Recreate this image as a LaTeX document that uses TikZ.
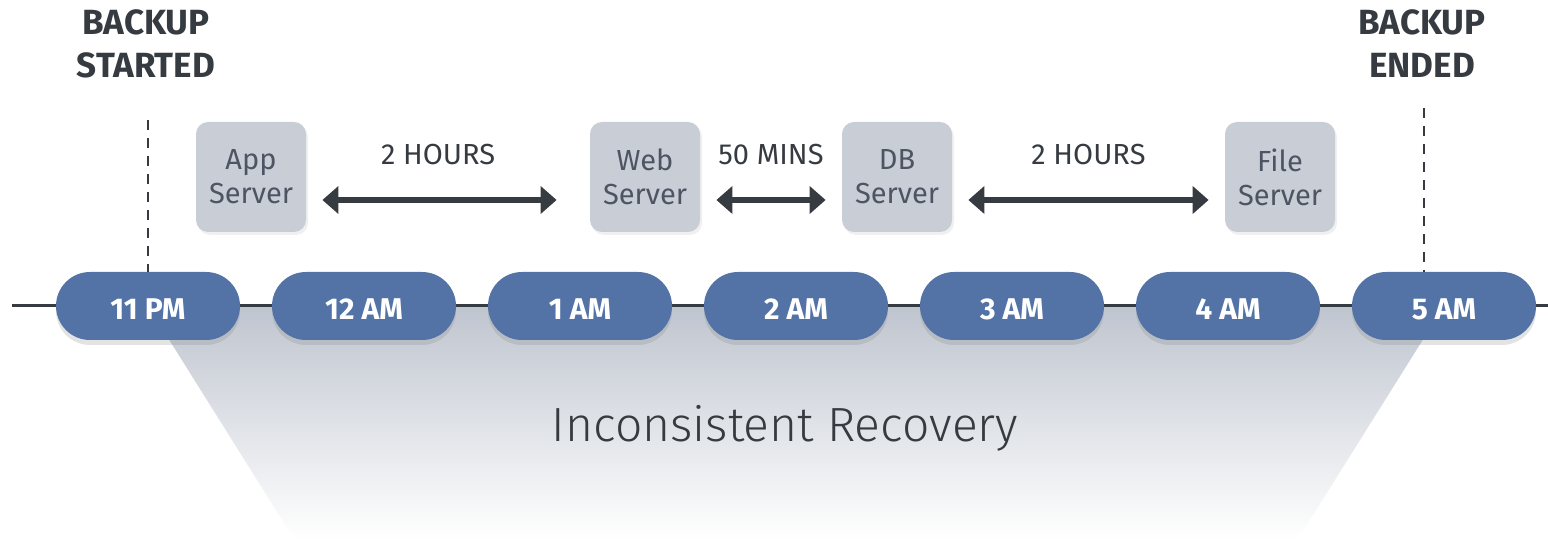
\documentclass[tikz,border=0pt]{standalone}
\usepackage{fontspec}
\setmainfont{Fira Sans}
\newfontfamily\lightfont{Fira Sans Light}
\usetikzlibrary{arrows.meta,shadows,backgrounds}
\definecolor{pillblue}{HTML}{5373A6}
\definecolor{inkgray}{HTML}{353B41}
\definecolor{boxgray}{HTML}{C9CDD6}
\definecolor{boxtext}{HTML}{4D5563}
\definecolor{fantop}{HTML}{BFC5CF}

\begin{document}
\begin{tikzpicture}[x=0.5pt, y=-0.5pt,
    pill/.style={fill=pillblue, text=white, rounded corners=17pt, minimum width=92pt, minimum height=34pt,
      text height=13.5pt, font=\fontsize{15}{18}\selectfont\bfseries,
      drop shadow={shadow xshift=0pt, shadow yshift=-2.5pt, opacity=0.22}},
    server/.style={fill=boxgray, text=boxtext, rounded corners=6pt, minimum width=55pt, minimum height=55pt,
      align=center, inner sep=0pt, font=\fontsize{14.5}{17}\selectfont,
      drop shadow={shadow xshift=1pt, shadow yshift=-1.5pt, opacity=0.12}},
    span/.style={{Triangle[length=8pt,width=13.5pt]}-{Triangle[length=8pt,width=13.5pt]}, line width=3pt, draw=inkgray,
      shorten <=8pt, shorten >=8pt},
    spanlabel/.style={midway, yshift=22.5pt, text=inkgray, font=\fontsize{14.5}{17}\selectfont},
    milestone/.style={text=inkgray, align=center, inner sep=0pt, font=\fontsize{17.5}{21.5}\selectfont\bfseries},
    guide/.style={draw=inkgray, line width=1.1pt, dash pattern=on 5pt off 4pt}]
  \useasboundingbox (0,0) rectangle (1548,539);

  % hours on the line
  \foreach \t [count=\i from 0] in {11 PM,12 AM,1 AM,2 AM,3 AM,4 AM,5 AM}
    \node[pill] (h\i) at (148+216*\i,306) {\t};

  \coordinate (lineL) at (12,306);
  \coordinate (lineR) at (1548,306);
  \coordinate (fanL) at (294,539);
  \coordinate (fanR) at (1298,539);
  \begin{scope}[on background layer]
    \shade[top color=fantop, bottom color=white] (h0.center) -- (h6.center) -- (fanR) -- (fanL) -- cycle;
    \draw[inkgray, line width=1.5pt] (lineL) -- (lineR);
  \end{scope}

  \node[text=inkgray, font=\fontsize{24}{28}\selectfont\lightfont, anchor=base] (recovery) at (785,442) {Inconsistent Recovery};

  % start and end of the backup
  \node[milestone] (started) at (146,44) {BACKUP\\STARTED};
  \node[milestone] (ended) at (1422,44) {BACKUP\\ENDED};
  \coordinate (startmark) at (148,120);
  \coordinate (endmark) at (1424,108);
  \draw[guide] (startmark) -- (h0.north);
  \draw[guide] (endmark) -- (h6.north -| endmark);

  % servers
  \node[server] (app) at (251,177) {App\\Server};
  \node[server] (web) at (645,177) {Web\\Server};
  \node[server] (db) at (897,177) {DB\\Server};
  \node[server] (file) at (1280,177) {File\\Server};

  \draw[span, shorten >=16.5pt] ([yshift=-11.5pt]app.east) -- node[spanlabel, pos=0.465] {2 HOURS} ([yshift=-11.5pt]web.west);
  \draw[span] ([yshift=-11.5pt]web.east) -- node[spanlabel] {50 MINS} ([yshift=-11.5pt]db.west);
  \draw[span] ([yshift=-11.5pt]db.east) -- node[spanlabel] {2 HOURS} ([yshift=-11.5pt]file.west);
\end{tikzpicture}
\end{document}
